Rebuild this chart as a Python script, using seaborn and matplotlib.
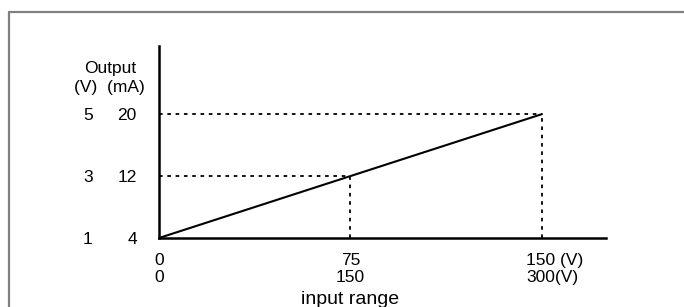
import numpy as np
import pandas as pd
import seaborn as sns
import matplotlib.pyplot as plt
from matplotlib.lines import Line2D
from matplotlib.transforms import ScaledTranslation

# data
input_v = [0, 75, 150]          # first input scale (V)
x_top_labels = ['0', '75', '150 (V)']
x_bot_labels = ['0', '150', '300(V)']
output_v = [1, 3, 5]            # output (V)
output_ma = [4, 12, 20]         # output (mA)

df = pd.DataFrame({'input': [input_v[0], input_v[-1]],
                   'output': [output_ma[0], output_ma[-1]]})

sns.set_theme(style='white')
plt.rcParams['font.family'] = ['Liberation Sans', 'DejaVu Sans']
fs = 12.5

fig = plt.figure(figsize=(6.84, 3.07), dpi=100)
ax = fig.add_axes([159/684, 1-238/307, (606-159)/684, (238-46)/307])

sns.lineplot(data=df, x='input', y='output', color='black', lw=1.5, ax=ax)

# dotted guide lines
dot = dict(color='black', lw=1.3, linestyle=(0, (2, 2.6)))
for xv, yv in zip(input_v[1:], output_ma[1:]):
    ax.plot([0, xv], [yv, yv], **dot)
    ax.plot([xv, xv], [output_ma[0], yv], **dot)

ax.set_xlim(0, 175.1)
ax.set_ylim(4, 28.8)
for s in ['top', 'right']:
    ax.spines[s].set_visible(False)
for s in ['left', 'bottom']:
    ax.spines[s].set_color('black')
    ax.spines[s].set_linewidth(1.8)

ax.set_xticks(input_v)
ax.set_xticklabels([a + '\n' + b for a, b in zip(x_top_labels, x_bot_labels)],
                   linespacing=1.18)
ax.set_yticks(output_ma)
ax.set_yticklabels([str(v) for v in output_ma])
ax.tick_params(axis='x', length=0, pad=10.5, labelsize=fs, colors='black')
ax.tick_params(axis='y', length=0, pad=16, labelsize=fs, colors='black')

lab = ax.get_xticklabels()[-1]
lab.set_multialignment('left')
lab.set_transform(lab.get_transform() + ScaledTranslation(13/100, 0, fig.dpi_scale_trans))

# second output column (V)
tr = ax.get_yaxis_transform()
for v, m in zip(output_v, output_ma):
    ax.text(-0.159, m, str(v), transform=tr, ha='center', va='center_baseline',
            fontsize=fs, color='black')
ax.text(-0.110, 0.885, 'Output', transform=ax.transAxes, ha='center', va='center',
        fontsize=fs, color='black')
ax.text(-0.112, 0.784, '(V)  (mA)', transform=ax.transAxes, ha='center', va='center',
        fontsize=fs, color='black')

ax.set_xlabel('input range', fontsize=14, color='black', va='baseline')
ax.xaxis.set_label_coords(input_v[1] / 175.1, -0.345)
ax.set_ylabel('')

# frame around the figure
fig.add_artist(Line2D([8.5/684, 8.5/684], [0, 1-11.5/307], transform=fig.transFigure,
                      color='#808080', lw=1.6))
fig.add_artist(Line2D([8.5/684, 1], [1-11.5/307, 1-11.5/307], transform=fig.transFigure,
                      color='#808080', lw=1.6))

plt.savefig('out.png', dpi=100)
